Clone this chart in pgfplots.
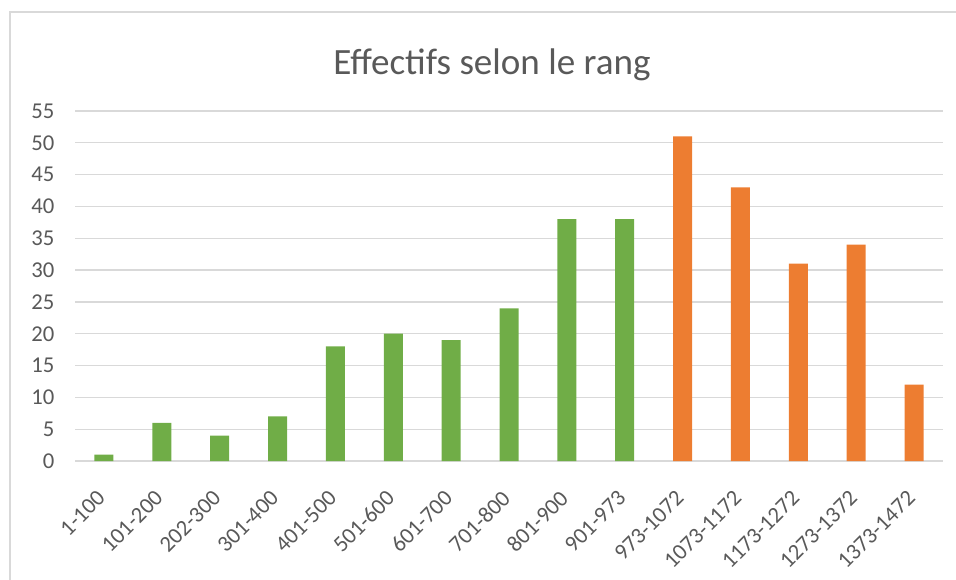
\documentclass[border=0pt]{standalone}
\usepackage{pgfplots}
\pgfplotsset{compat=1.18}
\usepackage{fontspec}
\setmainfont{Carlito}
\definecolor{gridgrey}{HTML}{D9D9D9}
\definecolor{txtgrey}{HTML}{595959}
\definecolor{bargreen}{HTML}{70AD47}
\definecolor{barorange}{HTML}{ED7D31}
\begin{document}
\begin{tikzpicture}
\useasboundingbox (0,0) rectangle (717pt,434.25pt);
\draw[gridgrey, line width=1.2pt] (7.5pt,-2pt) -- (7.5pt,425.25pt) -- (720pt,425.25pt);
\begin{axis}[
  at={(56.25pt,88.5pt)}, anchor=south west,
  scale only axis, width=651pt, height=262.5pt,
  xmin=-0.5, xmax=14.5, ymin=0, ymax=55,
  ytick={0,5,...,55},
  xtick={0,...,14},
  xticklabels={1-100,101-200,202-300,301-400,401-500,501-600,601-700,701-800,801-900,901-973,973-1072,1073-1172,1173-1272,1273-1372,1373-1472},
  axis line style={draw=none},
  ymajorgrids, grid style={gridgrey, line width=1pt},
  major tick length=0pt,
  tick label style={font=\fontsize{17}{20}\selectfont, text=txtgrey},
  /pgf/number format/assume math mode=true,
  yticklabel style={anchor=east, xshift=-12pt},
  xticklabel style={yshift=-25pt, xshift=-2pt, rotate=45, anchor=east, inner sep=0pt},
  title={Effectifs selon le rang},
  title style={font=\fontsize{27.8}{32}\selectfont, text=txtgrey, at={(0.5,1)}, anchor=center, yshift=29pt, xshift=-12.75pt},
  ybar, bar width=14.25pt, bar shift=0pt,
  clip=false,
]
\addplot[fill=bargreen, draw=none] coordinates {(0,1) (1,6) (2,4) (3,7) (4,18) (5,20) (6,19) (7,24) (8,38) (9,38)};
\addplot[fill=barorange, draw=none] coordinates {(10,51) (11,43) (12,31) (13,34) (14,12)};
\end{axis}
\end{tikzpicture}
\end{document}
